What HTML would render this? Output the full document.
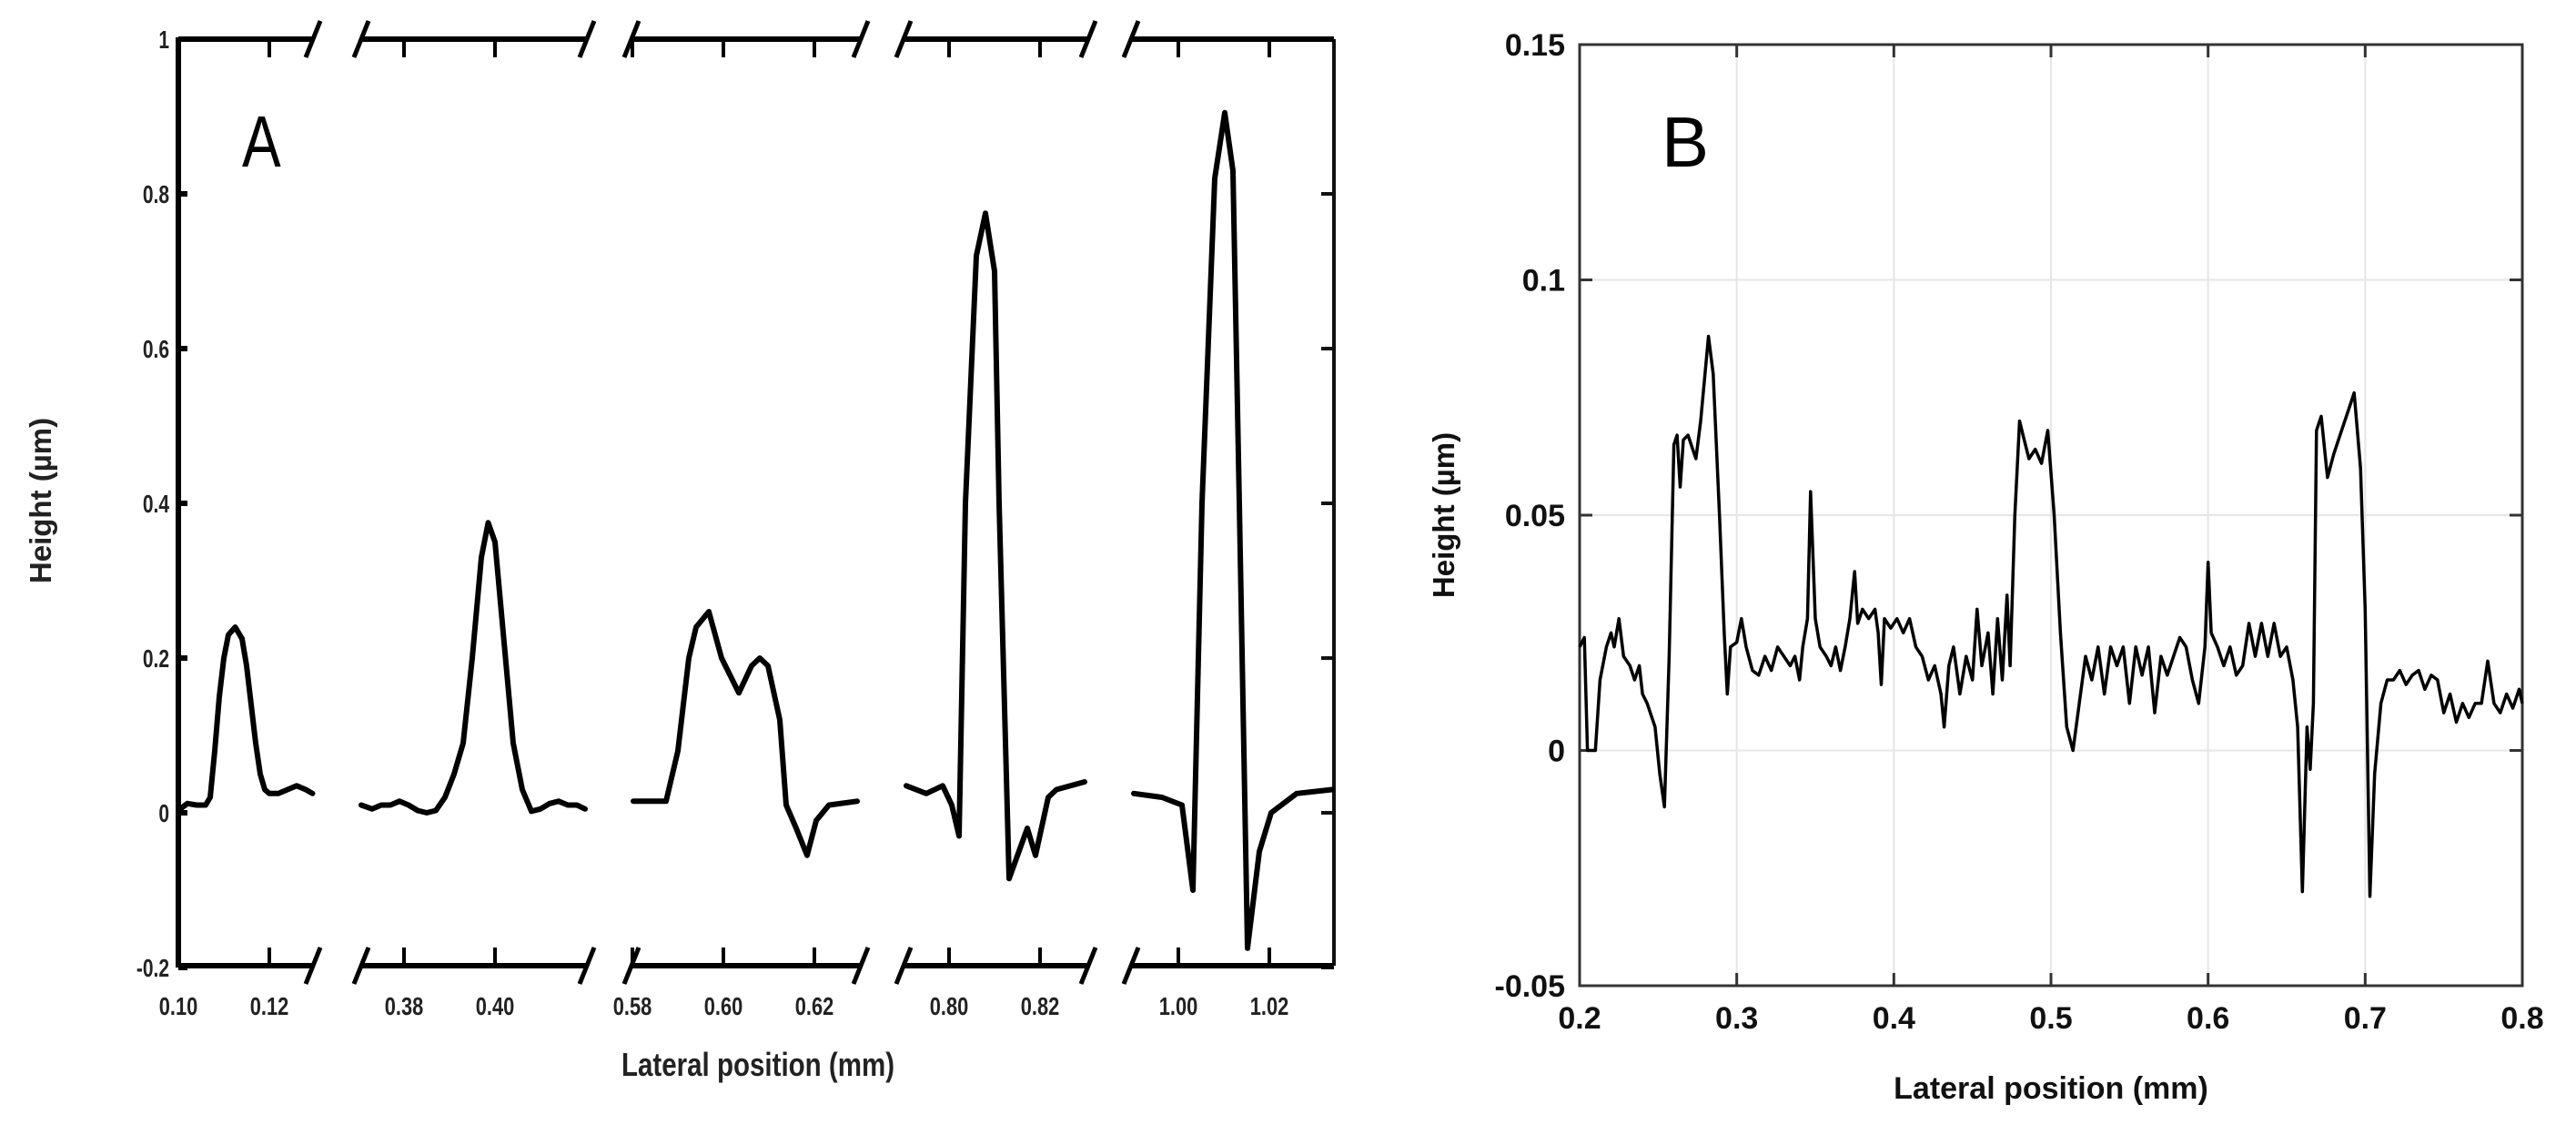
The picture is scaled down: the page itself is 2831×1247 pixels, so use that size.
<!DOCTYPE html>
<html><head><meta charset="utf-8">
<style>
html,body{margin:0;padding:0;background:#fff;}
svg{display:block;}
.ta{font-family:"Liberation Sans",sans-serif;font-weight:bold;fill:#222;}
.tb{font-family:"Liberation Sans",sans-serif;font-weight:bold;fill:#111;}
</style></head>
<body>
<svg id="fig" width="2831" height="1247" viewBox="0 0 2831 1247" xmlns="http://www.w3.org/2000/svg">
  <g id="panelA"></g>
  <g id="panelB"></g>
</svg>
<script>
// ---------- Panel A data ----------
const segTicksA = [["0.10","0.12"],["0.38","0.40"],["0.58","0.60","0.62"],["0.80","0.82"],["1.00","1.02"]];
const yTicksA = [1,0.8,0.6,0.4,0.2,0,-0.2];
const yTickLabelsA = ["1","0.8","0.6","0.4","0.2","0","-0.2"];
const seg1X = [0.1004,0.102,0.104,0.106,0.107,0.108,0.109,0.110,0.111,0.1125,0.114,0.115,0.116,0.117,0.118,0.119,0.120,0.122,0.124,0.126,0.128,0.1295];
const seg1Y = [0.005,0.012,0.01,0.01,0.02,0.08,0.15,0.20,0.23,0.24,0.225,0.19,0.14,0.09,0.05,0.03,0.025,0.025,0.03,0.035,0.03,0.025];
const seg2X = [0.3706,0.373,0.375,0.377,0.379,0.381,0.383,0.385,0.387,0.389,0.391,0.393,0.395,0.397,0.3985,0.400,0.402,0.404,0.406,0.408,0.410,0.412,0.414,0.416,0.418,0.4198];
const seg2Y = [0.01,0.005,0.01,0.01,0.015,0.01,0.003,0.0,0.003,0.02,0.05,0.09,0.2,0.33,0.375,0.35,0.22,0.09,0.03,0.002,0.005,0.012,0.015,0.01,0.01,0.005];
const seg3X = [0.5802,0.5874,0.590,0.5924,0.594,0.5968,0.5996,0.6034,0.6062,0.608,0.6098,0.6124,0.6138,0.616,0.6184,0.6204,0.6232,0.6294];
const seg3Y = [0.015,0.015,0.08,0.2,0.24,0.26,0.2,0.155,0.19,0.2,0.19,0.12,0.01,-0.02,-0.055,-0.01,0.01,0.015];
const seg4X = [0.7906,0.795,0.7986,0.8006,0.8022,0.8036,0.806,0.808,0.810,0.811,0.8132,0.8172,0.819,0.8218,0.8236,0.8298];
const seg4Y = [0.035,0.025,0.035,0.01,-0.03,0.4,0.72,0.775,0.7,0.4,-0.085,-0.02,-0.055,0.02,0.03,0.04];
const seg5X = [0.9902,0.9964,1.0008,1.0032,1.0052,1.008,1.0102,1.012,1.0134,1.0152,1.0178,1.0204,1.026,1.0338];
const seg5Y = [0.025,0.02,0.01,-0.1,0.4,0.82,0.905,0.83,0.4,-0.175,-0.05,0.0,0.025,0.03];

// ---------- Panel B data ----------
const xTicksB = [0.2,0.3,0.4,0.5,0.6,0.7,0.8];
const xTickLabelsB = ["0.2","0.3","0.4","0.5","0.6","0.7","0.8"];
const yTicksB = [0.15,0.1,0.05,0,-0.05];
const yTickLabelsB = ["0.15","0.1","0.05","0","-0.05"];
const bX = [0.200,0.203,0.205,0.210,0.213,0.217,0.220,0.222,0.225,0.228,0.232,0.235,0.238,0.240,0.243,0.248,0.251,0.254,0.257,0.260,0.262,0.264,0.266,0.269,0.272,0.274,0.277,0.282,0.285,0.289,0.292,0.294,0.296,0.300,0.303,0.306,0.310,0.314,0.318,0.322,0.326,0.330,0.334,0.337,0.340,0.342,0.345,0.347,0.350,0.353,0.357,0.360,0.363,0.366,0.369,0.372,0.375,0.377,0.380,0.384,0.388,0.390,0.392,0.394,0.398,0.402,0.406,0.410,0.414,0.418,0.422,0.426,0.430,0.432,0.435,0.438,0.442,0.446,0.450,0.453,0.456,0.460,0.463,0.466,0.469,0.472,0.474,0.477,0.480,0.483,0.486,0.490,0.494,0.498,0.502,0.506,0.510,0.514,0.518,0.522,0.526,0.530,0.534,0.538,0.542,0.546,0.550,0.554,0.558,0.562,0.566,0.570,0.574,0.578,0.582,0.586,0.590,0.594,0.598,0.600,0.602,0.606,0.610,0.614,0.618,0.622,0.626,0.630,0.634,0.638,0.642,0.646,0.650,0.654,0.657,0.660,0.663,0.665,0.667,0.669,0.672,0.676,0.680,0.685,0.690,0.693,0.697,0.700,0.703,0.706,0.710,0.714,0.718,0.722,0.726,0.730,0.734,0.738,0.742,0.746,0.750,0.754,0.758,0.762,0.766,0.770,0.774,0.778,0.782,0.786,0.790,0.794,0.798,0.800];
const bY = [0.022,0.024,0.0,0.0,0.015,0.022,0.025,0.022,0.028,0.02,0.018,0.015,0.018,0.012,0.01,0.005,-0.005,-0.012,0.02,0.065,0.067,0.056,0.066,0.067,0.064,0.062,0.07,0.088,0.08,0.05,0.025,0.012,0.022,0.023,0.028,0.022,0.017,0.016,0.02,0.017,0.022,0.02,0.018,0.02,0.015,0.022,0.028,0.055,0.028,0.022,0.02,0.018,0.022,0.017,0.022,0.028,0.038,0.027,0.03,0.028,0.03,0.025,0.014,0.028,0.026,0.028,0.025,0.028,0.022,0.02,0.015,0.018,0.012,0.005,0.018,0.022,0.012,0.02,0.015,0.03,0.018,0.025,0.012,0.028,0.015,0.033,0.018,0.05,0.07,0.066,0.062,0.064,0.061,0.068,0.05,0.025,0.005,0.0,0.01,0.02,0.015,0.022,0.012,0.022,0.018,0.022,0.01,0.022,0.016,0.022,0.008,0.02,0.016,0.02,0.024,0.022,0.015,0.01,0.022,0.04,0.025,0.022,0.018,0.022,0.016,0.018,0.027,0.02,0.027,0.02,0.027,0.02,0.022,0.015,0.005,-0.03,0.005,-0.004,0.01,0.068,0.071,0.058,0.063,0.068,0.073,0.076,0.06,0.03,-0.031,-0.005,0.01,0.015,0.015,0.017,0.014,0.016,0.017,0.013,0.016,0.015,0.008,0.012,0.006,0.01,0.007,0.01,0.01,0.019,0.01,0.008,0.012,0.009,0.013,0.01];

const NS="http://www.w3.org/2000/svg";
function mk(parent, tag, attrs, txt){
  const e=document.createElementNS(NS,tag);
  for(const k in attrs) e.setAttribute(k,attrs[k]);
  if(txt!==undefined) e.textContent=txt;
  parent.appendChild(e); return e;
}

// ---------- Panel A ----------
const A=document.getElementById('panelA');
const aTop=43, aBot=1061, aLeft=196, aRight=1466;
const yA=v=>893-(v)*850;
const segs=[{p0:196,p1:344,x0:0.10,px0:196},{p0:397,p1:645,x0:0.38,px0:444},{p0:694,p1:946,x0:0.58,px0:695},{p0:993,p1:1196,x0:0.80,px0:1043},{p0:1243,p1:1466,x0:1.00,px0:1295}];
const segData=[[seg1X,seg1Y],[seg2X,seg2Y],[seg3X,seg3Y],[seg4X,seg4Y],[seg5X,seg5Y]];
const xA=(s,v)=>s.px0+(v-s.x0)*5000;

let l=mk(A,'line',{x1:aLeft,y1:aTop-2,x2:aLeft,y2:aBot+2,stroke:'#000','stroke-width':6});


l=mk(A,'line',{x1:aRight,y1:aTop,x2:aRight,y2:aBot,stroke:'#111','stroke-width':4});



yTicksA.forEach((v,i)=>{
  const y=yA(v);
  let t=mk(A,'line',{x1:aLeft,y1:y,x2:aLeft+10,y2:y,stroke:'#000','stroke-width':6});
  
  
  t=mk(A,'line',{x1:aRight-14,y1:y,x2:aRight,y2:y,stroke:'#111','stroke-width':4});
  
  
  const lab=mk(A,'text',{x:0,y:0,'class':'ta','font-size':28,'text-anchor':'end',transform:`translate(186 ${y+10}) scale(0.75 1)`},yTickLabelsA[i]);
  
  
});

segs.forEach((s,si)=>{
  [aTop,aBot].forEach((yy,k)=>{
    const ax=mk(A,'line',{x1:s.p0,y1:yy,x2:s.p1,y2:yy,stroke:'#000','stroke-width':6});
    
    
    const ends=[];
    if(si>0) ends.push(s.p0);
    if(si<segs.length-1) ends.push(s.p1);
    ends.forEach(ex=>{
      const br=mk(A,'line',{x1:ex-8,y1:yy+20,x2:ex+8,y2:yy-20,stroke:'#000','stroke-width':5});
      
      
    });
  });
  segTicksA[si].forEach(lbl=>{
    const x=xA(s,parseFloat(lbl));
    let t=mk(A,'line',{x1:x,y1:aBot,x2:x,y2:aBot-20,stroke:'#000','stroke-width':4});
    
    
    t=mk(A,'line',{x1:x,y1:aTop,x2:x,y2:aTop+20,stroke:'#000','stroke-width':4});
    
    
    const tl=mk(A,'text',{x:0,y:0,'class':'ta','font-size':28,'text-anchor':'middle',transform:`translate(${x} 1115) scale(0.78 1)`},lbl);
    
    
  });
  const [xs,ys]=segData[si];
  const pts=xs.map((v,i)=>xA(s,v).toFixed(1)+','+yA(ys[i]).toFixed(1)).join(' ');
  const pl=mk(A,'polyline',{points:pts,fill:'none',stroke:'#000','stroke-width':6,'stroke-linejoin':'round','stroke-linecap':'round'});
  
  
});

let ta=mk(A,'text',{x:0,y:0,'font-family':'Liberation Sans, sans-serif','font-size':80,fill:'#000',transform:'translate(266 183) scale(0.8 1)'},'A');


ta=mk(A,'text',{x:0,y:0,'class':'ta','font-size':36,'text-anchor':'middle',transform:'translate(833 1182) scale(0.82 1)'},'Lateral position (mm)');


ta=mk(A,'text',{x:0,y:0,'class':'ta','font-size':33,'text-anchor':'middle',transform:'translate(56 550) rotate(-90)'},'Height (µm)');



// ---------- Panel B ----------
const B=document.getElementById('panelB');
const bL=1736,bR=2772,bT=49,bB=1083;
const xB=v=>bL+(v-0.2)/0.6*(bR-bL);
const yBf=v=>bB-(v+0.05)/0.2*(bB-bT);

xTicksB.forEach((v,i)=>{
  const x=xB(v);
  if(i>0&&i<xTicksB.length-1){
    const g=mk(B,'line',{x1:x,y1:bT,x2:x,y2:bB,stroke:'#e6e6e6','stroke-width':2});
    
    
  }
});
yTicksB.forEach((v,i)=>{
  const y=yBf(v);
  if(i>0&&i<yTicksB.length-1){
    const g=mk(B,'line',{x1:bL,y1:y,x2:bR,y2:y,stroke:'#e6e6e6','stroke-width':2});
    
    
  }
});
const fr=mk(B,'rect',{x:bL,y:bT,width:bR-bL,height:bB-bT,fill:'none',stroke:'#333','stroke-width':3});



xTicksB.forEach((v,i)=>{
  const x=xB(v);
  let t=mk(B,'line',{x1:x,y1:bB,x2:x,y2:bB-14,stroke:'#333','stroke-width':3});
  
  
  t=mk(B,'line',{x1:x,y1:bT,x2:x,y2:bT+14,stroke:'#333','stroke-width':3});
  
  
  const tl=mk(B,'text',{x:x,y:1130,'class':'tb','font-size':34,'text-anchor':'middle'},xTickLabelsB[i]);
  
  
});
yTicksB.forEach((v,i)=>{
  const y=yBf(v);
  let t=mk(B,'line',{x1:bL,y1:y,x2:bL+14,y2:y,stroke:'#333','stroke-width':3});
  
  
  t=mk(B,'line',{x1:bR-14,y1:y,x2:bR,y2:y,stroke:'#333','stroke-width':3});
  
  
  const tl=mk(B,'text',{x:1720,y:y+12,'class':'tb','font-size':34,'text-anchor':'end'},yTickLabelsB[i]);
  
  
});
const bpts=bX.map((v,i)=>xB(v).toFixed(1)+','+yBf(bY[i]).toFixed(1)).join(' ');
const bl=mk(B,'polyline',{points:bpts,fill:'none',stroke:'#000','stroke-width':3.5,'stroke-linejoin':'round'});



let tb=mk(B,'text',{x:1826,y:183,'font-family':'Liberation Sans, sans-serif','font-size':78,fill:'#000'},'B');


tb=mk(B,'text',{x:2254,y:1207,'class':'tb','font-size':34,'text-anchor':'middle',fill:'#333'},'Lateral position (mm)');


tb=mk(B,'text',{x:0,y:0,'class':'tb','font-size':33,'text-anchor':'middle',transform:'translate(1598 566) rotate(-90)'},'Height (µm)');


</script>
</body></html>
